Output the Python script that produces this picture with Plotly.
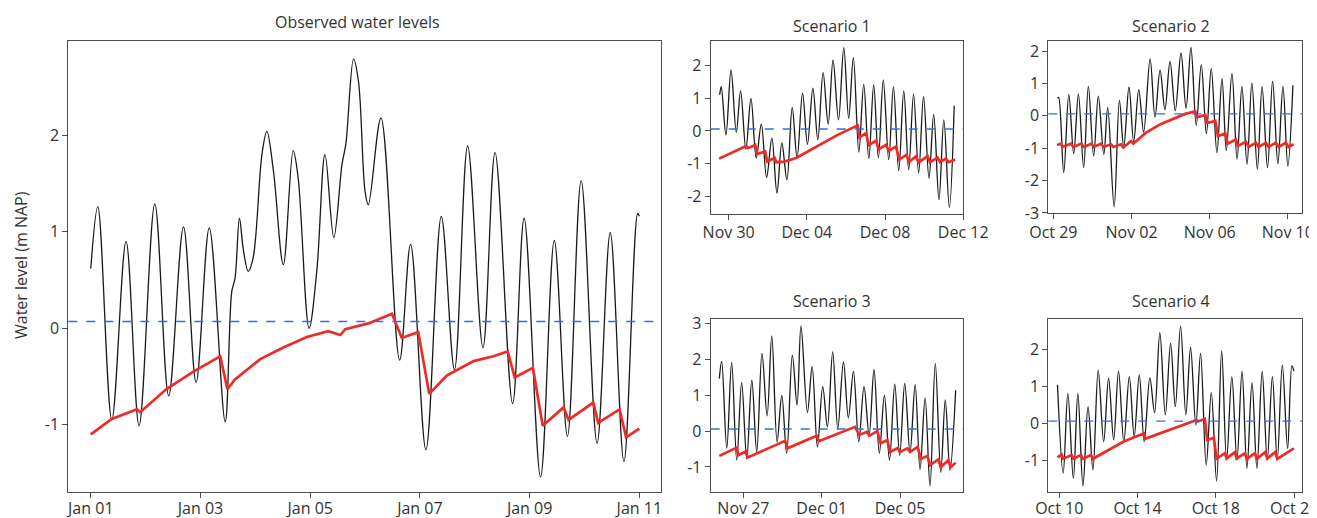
import plotly.graph_objects as go

OFF = 8  # default page margin that shifts the figure inside the window
W, H = 1317 - OFF, 518 - OFF
FONT = "Open Sans"
TXT = "#333333"
AXC = "#4d4d4d"
BLACK = "#1a1a1a"
RED = "#ee2b27"
BLUE = "#3a6cd6"

# ---------------- Observed water levels (x in days since Jan 01) ----------------
main_tickvals = [0, 2, 4, 6, 8, 10]
main_ticktext = ["Jan 01", "Jan 03", "Jan 05", "Jan 07", "Jan 09", "Jan 11"]
main_black_t = [0.0, 0.128, 0.383, 0.643, 0.88, 1.167, 1.42, 1.69, 1.92, 2.16, 2.45, 2.57, 2.63,
                2.71, 2.78, 2.87, 2.96, 3.12, 3.21, 3.33, 3.51, 3.69, 3.78, 3.98, 4.12, 4.27,
                4.43, 4.58, 4.65, 4.79, 4.88, 5.0, 5.06, 5.29, 5.63, 5.83, 6.11, 6.39, 6.63,
                6.87, 7.15, 7.37, 7.69, 7.9, 8.2, 8.45, 8.69, 8.94, 9.23, 9.47, 9.72, 9.97, 10.0]
main_black_v = [0.62, 1.26, -0.95, 0.90, -1.01, 1.29, -0.70, 1.05, -0.56, 1.04, -0.97, 0.38, 0.52,
                1.14, 0.82, 0.59, 0.73, 1.80, 2.04, 1.63, 0.66, 1.84, 1.56, 0.0, 0.59, 1.80,
                0.94, 1.70, 1.91, 2.79, 2.56, 1.42, 1.28, 2.18, -0.33, 0.87, -1.26, 1.16, -0.43,
                1.89, -0.20, 1.82, -0.78, 1.14, -1.54, 0.91, -1.12, 1.53, -1.19, 0.99, -1.38, 1.19, 1.16]
main_red_t = [0.0, 0.383, 0.84, 0.90, 1.38, 1.87, 2.36, 2.49, 2.63, 3.09, 3.51, 3.94, 4.33, 4.55,
              4.64, 5.06, 5.49, 5.67, 5.97, 6.17, 6.49, 6.98, 7.34, 7.6, 7.73, 8.06, 8.24, 8.62,
              8.71, 9.16, 9.25, 9.64, 9.76, 10.0]
main_red_v = [-1.10, -0.94, -0.84, -0.87, -0.63, -0.45, -0.29, -0.63, -0.53, -0.32, -0.20, -0.09,
              -0.03, -0.07, -0.01, 0.05, 0.15, -0.10, -0.04, -0.68, -0.49, -0.34, -0.29, -0.24,
              -0.51, -0.41, -1.01, -0.82, -0.95, -0.77, -0.98, -0.84, -1.13, -1.04]
main_ref_level = 0.07

# ---------------- Scenario 1 (days since Nov 30) ----------------
s1_tickvals = [0, 4, 8, 12]
s1_ticktext = ["Nov 30", "Dec 04", "Dec 08", "Dec 12"]
s1_black_t = [-0.46, -0.38, -0.14, 0.12, 0.39, 0.61, 0.88, 1.14, 1.41, 1.67, 1.94, 2.21, 2.47, 2.72,
              2.98, 3.25, 3.50, 3.78, 4.03, 4.31, 4.56, 4.83, 5.09, 5.34, 5.62, 5.89, 6.14, 6.38,
              6.66, 6.91, 7.17, 7.42, 7.66, 7.91, 8.19, 8.43, 8.70, 8.96, 9.21, 9.46, 9.72, 9.97,
              10.25, 10.49, 10.76, 11.01, 11.29, 11.54]
s1_black_v = [1.11, 1.36, -0.12, 1.87, -0.04, 1.23, -0.56, 1.0, -0.83, 0.21, -1.43, -0.22, -1.91, -0.37,
              -1.50, 0.72, -0.83, 1.16, -0.41, 1.31, -0.27, 1.79, 0.21, 2.18, 0.34, 2.56, 0.39, 2.25,
              -0.65, 1.43, -0.85, 1.41, -0.83, 1.57, -0.88, 1.36, -1.22, 1.23, -1.19, 1.13, -1.29, 1.05,
              -1.45, 0.51, -2.11, 0.34, -2.35, 0.77]
s1_red_t = [-0.49, 0.90, 0.99, 1.36, 1.46, 1.87, 1.97, 2.35, 2.43, 2.86, 3.45, 4.56, 5.58, 6.60, 6.69,
            7.03, 7.17, 7.54, 7.68, 8.05, 8.19, 8.56, 8.73, 9.11, 9.21, 9.58, 9.72, 10.18, 10.30,
            10.69, 10.81, 11.12, 11.25, 11.59]
s1_red_v = [-0.85, -0.46, -0.53, -0.43, -0.71, -0.63, -0.94, -0.83, -0.96, -0.94, -0.83, -0.47, -0.12,
            0.17, -0.20, -0.07, -0.43, -0.30, -0.56, -0.43, -0.61, -0.48, -0.88, -0.73, -0.96, -0.78,
            -0.96, -0.78, -0.96, -0.82, -0.96, -0.85, -0.96, -0.88]

# ---------------- Scenario 2 (days since Oct 29) ----------------
s2_tickvals = [0, 4, 8, 12]
s2_ticktext = ["Oct 29", "Nov 02", "Nov 06", "Nov 10"]
s2_black_t = [0.22, 0.27, 0.53, 0.79, 1.04, 1.28, 1.55, 1.79, 2.06, 2.30, 2.58, 2.78, 3.11, 3.38, 3.60,
              3.87, 4.11, 4.37, 4.62, 4.95, 5.20, 5.46, 5.71, 5.97, 6.24, 6.53, 6.79, 7.04, 7.31, 7.57,
              7.83, 8.08, 8.37, 8.63, 8.85, 9.14, 9.40, 9.65, 9.91, 10.16, 10.44, 10.68, 10.96, 11.22,
              11.49, 11.75, 12.0, 12.26]
s2_black_v = [0.55, 0.57, -1.75, 0.66, -1.17, 0.68, -1.60, 0.91, -1.24, 0.61, -1.19, 0.25, -2.81, 0.48,
              -0.98, 0.89, -0.80, 0.81, -0.50, 1.76, -0.04, 1.41, 0.19, 1.68, 0.16, 1.94, 0.23, 2.11,
              -0.29, 1.58, -0.55, 1.46, -1.14, 1.15, -1.07, 1.31, -1.34, 0.91, -1.50, 1.02, -1.65, 0.91,
              -1.60, 1.07, -1.48, 0.91, -1.55, 0.94]
s2_red_t = [0.19, 0.39, 0.48, 0.90, 1.02, 1.42, 1.55, 1.95, 2.06, 2.44, 2.56, 2.95, 3.07, 3.46, 3.58,
            3.97, 4.09, 4.74, 5.51, 6.28, 6.75, 7.26, 7.35, 7.78, 7.88, 8.29, 8.42, 8.80, 8.92, 9.34,
            9.45, 9.86, 9.99, 10.37, 10.50, 10.88, 11.01, 11.39, 11.53, 11.90, 12.03, 12.29]
s2_red_v = [-0.90, -0.86, -0.96, -0.86, -0.96, -0.86, -0.96, -0.86, -0.96, -0.86, -0.96, -0.88, -0.96,
            -0.88, -0.98, -0.78, -0.86, -0.52, -0.25, -0.06, 0.06, 0.14, -0.04, 0.02, -0.22, -0.16,
            -0.63, -0.54, -0.86, -0.73, -0.93, -0.80, -0.96, -0.83, -0.96, -0.83, -0.96, -0.83, -0.96,
            -0.83, -0.96, -0.88]

# ---------------- Scenario 3 (days since Nov 27) ----------------
s3_tickvals = [0, 4, 8]
s3_ticktext = ["Nov 27", "Dec 01", "Dec 05"]
s3_black_t = [-1.23, -1.11, -0.85, -0.60, -0.34, -0.09, 0.17, 0.43, 0.68, 0.95, 1.21, 1.45, 1.72, 1.96,
              2.21, 2.50, 2.74, 2.94, 3.27, 3.51, 3.78, 4.05, 4.29, 4.56, 4.82, 5.11, 5.36, 5.62, 5.89,
              6.16, 6.42, 6.67, 6.94, 7.20, 7.46, 7.73, 7.98, 8.24, 8.51, 8.77, 9.02, 9.28, 9.53, 9.80,
              10.08, 10.31, 10.55, 10.84]
s3_black_v = [1.47, 1.95, -0.48, 1.92, -0.81, 1.36, -0.76, 1.42, -0.58, 2.17, 0.43, 2.66, -0.30, 1.0,
              -0.62, 2.12, 0.73, 2.94, 0.52, 1.80, -0.44, 1.24, 0.12, 2.21, 0.07, 1.93, 0.37, 1.67, -0.30,
              1.24, -0.11, 1.72, -0.62, 1.0, -0.81, 1.31, -0.67, 1.33, -0.60, 1.30, -1.07, 0.93, -1.53,
              1.89, -1.15, 0.87, -1.09, 1.14]
s3_red_t = [-1.23, -0.34, -0.26, 0.14, 0.20, 0.68, 2.13, 2.25, 3.74, 3.85, 5.70, 5.92, 6.30, 6.43, 6.84,
            7.01, 7.35, 7.49, 7.88, 8.0, 8.37, 8.51, 8.90, 9.06, 9.40, 9.53, 9.96, 10.08, 10.47, 10.59,
            10.84]
s3_red_v = [-0.69, -0.46, -0.67, -0.56, -0.74, -0.62, -0.27, -0.48, -0.13, -0.28, 0.12, -0.11, -0.02,
            -0.13, 0.0, -0.34, -0.25, -0.58, -0.47, -0.58, -0.48, -0.58, -0.44, -0.78, -0.69, -0.95,
            -0.79, -1.0, -0.81, -1.0, -0.88]

# ---------------- Scenario 4 (days since Oct 10) ----------------
s4_tickvals = [0, 4, 8, 12]
s4_ticktext = ["Oct 10", "Oct 14", "Oct 18", "Oct 22"]
s4_black_t = [-0.09, 0.20, 0.44, 0.72, 0.95, 1.21, 1.47, 1.72, 1.99, 2.27, 2.52, 2.78, 3.03, 3.30, 3.58,
              3.83, 4.09, 4.34, 4.63, 4.87, 5.14, 5.42, 5.69, 5.93, 6.20, 6.47, 6.71, 6.98, 7.22, 7.51,
              7.77, 8.04, 8.30, 8.55, 8.82, 9.08, 9.34, 9.59, 9.85, 10.10, 10.37, 10.63, 10.89, 11.14,
              11.40, 11.67, 11.89, 11.99]
s4_black_v = [1.04, -1.35, 0.81, -1.49, 0.81, -1.69, 0.45, -1.26, 1.44, -0.50, 1.22, -0.45, 1.41, -0.50,
              1.26, -0.36, 1.31, -0.50, 1.23, 0.29, 2.45, 0.23, 2.16, 0.45, 2.63, 0.23, 2.05, -0.05, 1.89,
              -1.13, 0.83, -1.56, 1.96, -0.99, 1.26, -0.99, 1.41, -1.22, 1.10, -1.22, 1.40, -0.99, 1.26,
              -0.99, 1.58, -0.68, 1.56, 1.41]
s4_red_t = [-0.09, 0.12, 0.20, 0.63, 0.72, 1.11, 1.21, 1.62, 1.72, 3.27, 4.33, 4.38, 7.02, 7.10, 7.44,
            7.56, 7.90, 8.04, 8.47, 8.55, 8.98, 9.06, 9.49, 9.59, 10.0, 10.10, 10.53, 10.63, 11.04,
            11.14, 11.99]
s4_red_v = [-0.92, -0.84, -0.96, -0.86, -0.96, -0.86, -0.96, -0.86, -0.96, -0.50, -0.27, -0.42, 0.09,
            0.05, 0.12, -0.45, -0.39, -0.96, -0.81, -0.95, -0.78, -0.95, -0.81, -0.96, -0.81, -0.96,
            -0.78, -0.95, -0.78, -0.96, -0.68]
scen_ref_level = 0.06

# ---------------- layout geometry (window pixels -> paper) ----------------
def px_x(a, b):
    return [(a - OFF) / W, (b - OFF) / W]

def px_y(top, bottom):
    return [1 - (bottom - OFF) / H, 1 - (top - OFF) / H]

def pt(x, y):
    return (x - OFF) / W, 1 - (y - OFF) / H

panels = [
    # suffix, xdomain, ydomain, xrange, yrange, xticks, xlabels, yticks, black, red, ref, label standoff, x tick font
    ("", px_x(68.3, 660.7), px_y(40.7, 492.3), [-0.41, 10.39], [-1.70, 2.98],
     main_tickvals, main_ticktext, [-1, 0, 1, 2], (main_black_t, main_black_v), (main_red_t, main_red_v),
     main_ref_level, -4, 16),
    ("2", px_x(710.7, 963.3), px_y(40.7, 214.0), [-0.92, 12.005], [-2.55, 2.77],
     s1_tickvals, s1_ticktext, [-2, -1, 0, 1, 2], (s1_black_t, s1_black_v), (s1_red_t, s1_red_v),
     scen_ref_level, -1, 16),
    ("3", px_x(1048.3, 1302.3), px_y(40.7, 213.3), [-0.26, 12.74], [-3.01, 2.32],
     s2_tickvals, s2_ticktext, [-3, -2, -1, 0, 1, 2], (s2_black_t, s2_black_v), (s2_red_t, s2_red_v),
     scen_ref_level, -1, 16),
    ("4", px_x(710.7, 963.3), px_y(319.0, 491.7), [-1.67, 11.23], [-1.69, 3.13],
     s3_tickvals, s3_ticktext, [-1, 0, 1, 2, 3], (s3_black_t, s3_black_v), (s3_red_t, s3_red_v),
     scen_ref_level, -3, 16),
    ("5", px_x(1048.3, 1302.3), px_y(319.0, 491.7), [-0.56, 12.42], [-1.85, 2.82],
     s4_tickvals, s4_ticktext, [-1, 0, 1, 2], (s4_black_t, s4_black_v), (s4_red_t, s4_red_v),
     scen_ref_level, -3, 16),
]

fig = go.Figure()
layout = dict(
    template="none",
    width=W, height=H, autosize=False,
    margin=dict(l=0, r=0, t=0, b=0, pad=0),
    paper_bgcolor="white", plot_bgcolor="white",
    showlegend=False,
    font=dict(family=FONT, color=TXT, size=16),
    shapes=[], annotations=[],
)

for suf, xd, yd, xr, yr, tv, tt, yt, blk, red, ref, stand, xfs in panels:
    xa, ya = "x" + suf, "y" + suf
    fig.add_trace(go.Scatter(x=blk[0], y=blk[1], mode="lines", xaxis=xa, yaxis=ya,
                             line=dict(color=BLACK, width=1.3, shape="spline", smoothing=1.0),
                             hoverinfo="skip"))
    fig.add_trace(go.Scatter(x=red[0], y=red[1], mode="lines", xaxis=xa, yaxis=ya,
                             line=dict(color=RED, width=2.7), hoverinfo="skip"))
    layout["shapes"].append(dict(type="line", xref=xa + " domain", yref=ya, x0=0, x1=1, y0=ref, y1=ref,
                                 line=dict(color=BLUE, width=1.3, dash="dash"), layer="above"))
    common = dict(showgrid=False, zeroline=False, showline=True, linecolor=AXC, linewidth=1,
                  mirror=True, ticks="outside", ticklen=5, tickwidth=1, tickcolor=AXC,
                  automargin=False, ticklabeloverflow="allow")
    layout["xaxis" + suf] = dict(domain=xd, range=xr, anchor=ya, tickmode="array", tickvals=tv,
                                 ticktext=tt, ticklabelstandoff=stand,
                                 tickfont=dict(size=xfs, family=FONT, color=TXT), **common)
    layout["yaxis" + suf] = dict(domain=yd, range=yr, anchor=xa, tickmode="array", tickvals=yt,
                                 ticktext=[str(v) for v in yt],
                                 tickfont=dict(size=16, family=FONT, color=TXT), **common)

titles = [("Observed water levels", 357, 22), ("Scenario 1", 832, 26), ("Scenario 2", 1171, 26),
          ("Scenario 3", 832, 301), ("Scenario 4", 1171, 301)]
for text, cx, cy in titles:
    ax_, ay_ = pt(cx, cy)
    layout["annotations"].append(dict(text=text, x=ax_, y=ay_, xref="paper", yref="paper",
                                      showarrow=False, xanchor="center", yanchor="middle",
                                      font=dict(size=16, family=FONT, color=TXT)))
yx, yy = pt(21, 265)
layout["annotations"].append(dict(text="Water level (m NAP)", x=yx, y=yy, xref="paper",
                                  yref="paper", showarrow=False, textangle=-90, xanchor="center",
                                  yanchor="middle", font=dict(size=16, family=FONT, color=TXT)))

fig.update_layout(**layout)
fig.write_html("out.html")
